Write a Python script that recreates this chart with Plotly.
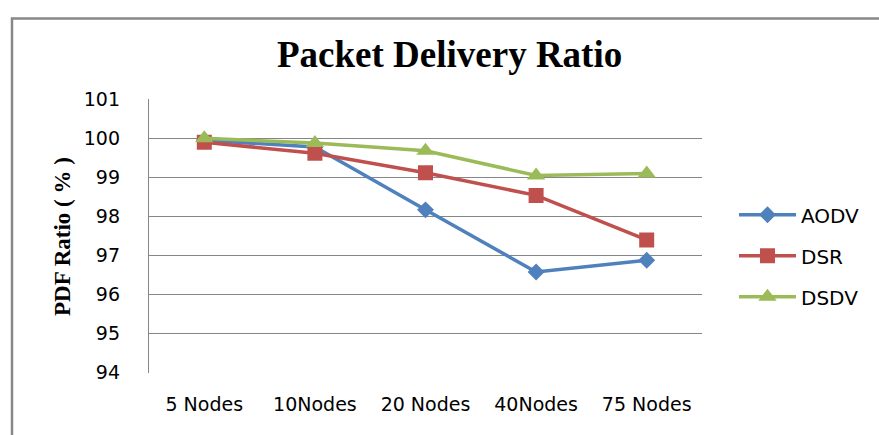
import plotly.graph_objects as go

categories = ["5 Nodes", "10Nodes", "20 Nodes", "40Nodes", "75 Nodes"]
aodv = [99.95, 99.78, 98.17, 96.58, 96.88]
dsr = [99.9, 99.62, 99.12, 98.54, 97.4]
dsdv = [100.0, 99.88, 99.68, 99.05, 99.1]
y_ticks = [94, 95, 96, 97, 98, 99, 100, 101]

W, H = 879, 435

def px(x):
    return x / W

def py(y):
    return 1 - y / H

TICKFONT = "DejaVu Sans, Liberation Sans, Arial"
SERIF = "Liberation Serif, Times New Roman, serif"

fig = go.Figure()
series = [
    ("AODV", aodv, "#4F81BD", "diamond", 13),
    ("DSR", dsr, "#C0504D", "square", 15),
    ("DSDV", dsdv, "#9BBB59", "triangle-up", 16),
]
for name, vals, col, sym, sz in series:
    fig.add_trace(go.Scatter(
        x=categories, y=vals, name=name, mode="lines+markers",
        legendgroup=name,
        line=dict(color=col, width=3.5),
        marker=dict(symbol=sym, size=sz, color=col),
    ))

fig.update_layout(
    width=W, height=H,
    margin=dict(l=0, r=0, t=0, b=0),
    paper_bgcolor="white", plot_bgcolor="white",
    showlegend=True,
    legend=dict(
        x=px(734), y=py(194), xanchor="left", yanchor="top",
        font=dict(family=TICKFONT, size=20, color="black"),
        tracegroupgap=12, itemwidth=57,
        bgcolor="rgba(0,0,0,0)",
    ),
    xaxis=dict(
        domain=[px(149), px(702)],
        type="category",
        range=[-0.5, 4.5],
        showgrid=False, showline=False, ticks="",
        tickfont=dict(family=TICKFONT, size=19, color="black"),
        ticklabelstandoff=18,
        zeroline=False,
    ),
    yaxis=dict(
        domain=[py(381), py(93)],
        range=[94, 101],
        tickvals=y_ticks,
        showgrid=True, gridcolor="#868686", gridwidth=1.3,
        showline=True, linecolor="#868686", linewidth=1.3,
        ticks="", zeroline=False,
        tickfont=dict(family=TICKFONT, size=19, color="black"),
        ticklabelstandoff=24,
    ),
    annotations=[
        dict(text="<b>Packet Delivery Ratio</b>", x=px(449), y=py(46),
             xanchor="center", yanchor="middle",
             xref="paper", yref="paper", showarrow=False,
             font=dict(family=SERIF, size=37, color="black")),
        dict(text="<b>PDF Ratio ( % )</b>", x=px(63), y=py(238),
             xanchor="center", yanchor="middle",
             xref="paper", yref="paper", showarrow=False, textangle=-90,
             font=dict(family=SERIF, size=23, color="black")),
    ],
    shapes=[
        dict(type="rect", xref="paper", yref="paper",
             x0=px(12), x1=px(900), y0=py(460), y1=py(8),
             line=dict(color="#888888", width=2.5), fillcolor="rgba(0,0,0,0)"),
    ],
)

fig.write_html(
    "out.html",
    config={"displayModeBar": False},
    post_script="document.body.style.margin='0';document.body.style.overflow='hidden';",
)
